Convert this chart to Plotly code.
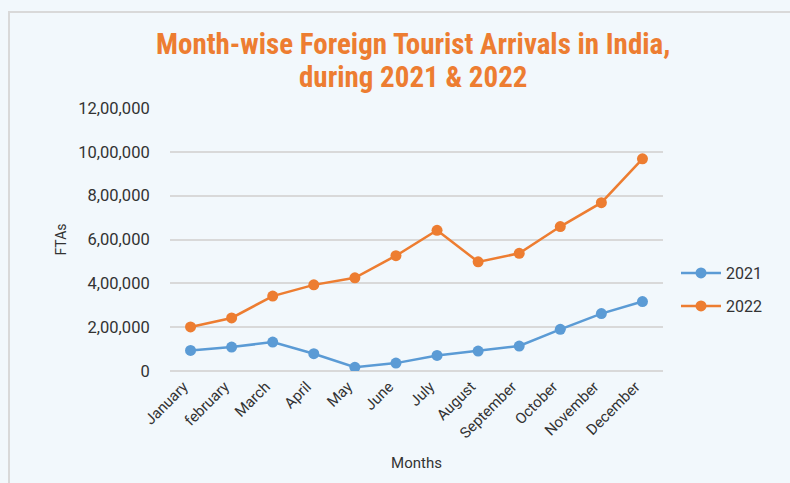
import plotly.graph_objects as go

months = ["January", "february", "March", "April", "May", "June", "July",
          "August", "September", "October", "November", "December"]
fta_2021 = [94000, 109000, 132000, 79000, 17000, 36000, 71000, 91000, 114000, 190000, 262000, 317000]
fta_2022 = [201000, 242000, 342000, 393000, 425000, 526000, 642000, 498000, 537000, 659000, 768000, 968000]
y_tickvals = [0, 200000, 400000, 600000, 800000, 1000000, 1200000]
y_ticktext = ["0", "2,00,000", "4,00,000", "6,00,000", "8,00,000", "10,00,000", "12,00,000"]
title_lines = ["Month-wise Foreign Tourist Arrivals in India,", "during 2021 & 2022"]

BLUE = "#5B9BD5"
ORANGE = "#ED7D31"
BG = "#F2F8FC"
GRID = "#D9D9D9"
TXT = "#333333"
FONT = "Roboto"
TFONT = "Roboto Condensed, Liberation Sans Narrow, Roboto"

W, H = 790, 483
L, R, T, B = 170, 663, 108, 371  # plot area pixels
pw, ph = R - L, B - T

def px2x(p):
    return (p - L) / pw

def px2y(p):
    return (B - p) / ph

fig = go.Figure()
fig.add_trace(go.Scatter(
    x=months, y=fta_2021, name="2021", mode="lines+markers",
    line=dict(color=BLUE, width=2.5), marker=dict(color=BLUE, size=11),
    legend="legend", showlegend=True))
fig.add_trace(go.Scatter(
    x=months, y=fta_2022, name="2022", mode="lines+markers",
    line=dict(color=ORANGE, width=2.5), marker=dict(color=ORANGE, size=11),
    legend="legend2", showlegend=True))

annotations = []
for line, cy in zip(title_lines, [44, 77]):
    annotations.append(dict(
        text=line, xref="paper", yref="paper", x=px2x(413), y=px2y(cy),
        xanchor="center", yanchor="middle", showarrow=False,
        font=dict(family=TFONT, size=29, color=ORANGE, weight="bold")))

fig.update_layout(
    width=W, height=H, showlegend=True,
    margin=dict(l=L, r=W - R, t=T, b=H - B, pad=0),
    paper_bgcolor=BG, plot_bgcolor=BG,
    font=dict(family=FONT, color=TXT, size=14),
    annotations=annotations,
    legend=dict(x=px2x(676), y=px2y(273), xanchor="left", yanchor="middle",
                itemwidth=40,
                bgcolor="rgba(0,0,0,0)", font=dict(size=16, color=TXT)),
    legend2=dict(x=px2x(676), y=px2y(306), xanchor="left", yanchor="middle",
                 itemwidth=40,
                 bgcolor="rgba(0,0,0,0)", font=dict(size=16, color=TXT)),
    xaxis=dict(
        type="category", range=[-0.5, 11.5],
        showgrid=False, zeroline=False, showline=False,
        tickangle=-45, tickfont=dict(size=15, color=TXT),
        ticks="", ticklabelstandoff=3, ticklabelshift=-7,
        title=dict(text="Months", font=dict(size=15, color=TXT), standoff=16)),
    yaxis=dict(
        range=[0, 1200000], tickvals=y_tickvals, ticktext=y_ticktext,
        showgrid=True, gridcolor=GRID, gridwidth=1.5,
        zeroline=True, zerolinecolor=GRID, zerolinewidth=1.5,
        showline=False, ticks="outside", ticklen=16, tickcolor=BG,
        tickfont=dict(size=16.5, color=TXT),
        title=dict(text="FTAs", font=dict(size=14, color=TXT), standoff=8)),
    shapes=[dict(type="rect", xref="paper", yref="paper",
                 x0=px2x(9), x1=px2x(820), y0=px2y(12), y1=px2y(520),
                 line=dict(color=GRID, width=2), fillcolor="rgba(0,0,0,0)",
                 layer="below")],
)

fig.write_html("out.html", config={"displayModeBar": False},
               post_script="document.body.style.margin='0';")
